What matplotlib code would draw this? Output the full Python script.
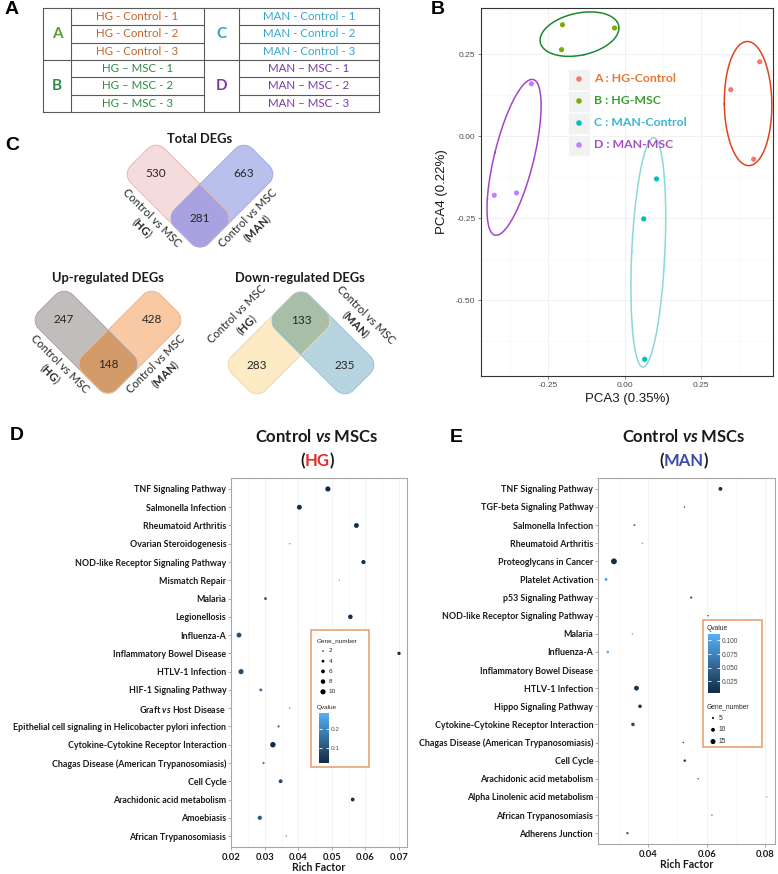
import numpy as np
import matplotlib
matplotlib.use('Agg')
import matplotlib.pyplot as plt
from matplotlib.colors import LinearSegmentedColormap, Normalize
from matplotlib.cm import ScalarMappable
from matplotlib.patches import Polygon, Rectangle
from matplotlib.ticker import FormatStrFormatter

plt.rcParams['font.family'] = ['Lato', 'DejaVu Sans']
plt.rcParams['mathtext.fontset'] = 'custom'
plt.rcParams['mathtext.rm'] = 'Lato'
plt.rcParams['mathtext.bf'] = 'Lato:bold'
plt.rcParams['mathtext.it'] = 'Lato:italic:bold'
plt.rcParams['axes.unicode_minus'] = False

W, H = 778, 874

# A: sample table
groups_left = ['A', 'B']
groups_right = ['C', 'D']
samples_left = ['HG - Control - 1', 'HG - Control - 2', 'HG - Control - 3',
                'HG – MSC - 1', 'HG – MSC - 2', 'HG – MSC - 3']
samples_right = ['MAN - Control - 1', 'MAN - Control - 2', 'MAN - Control - 3',
                 'MAN – MSC - 1', 'MAN – MSC - 2', 'MAN – MSC - 3']

# B: PCA
pca_labels = ['A : HG-Control', 'B : HG-MSC', 'C : MAN-Control', 'D : MAN-MSC']
pca3 = [[0.444, 0.349, 0.424], [-0.204, -0.033, -0.207],
        [0.105, 0.063, 0.066], [-0.306, -0.428, -0.355]]
pca4 = [[0.227, 0.142, -0.070], [0.340, 0.330, 0.264],
        [-0.130, -0.252, -0.680], [0.160, -0.180, -0.173]]

# C: Venn counts
venn_titles = ['Total DEGs', 'Up-regulated DEGs', 'Down-regulated DEGs']
venn_only_hg = [530, 247, 283]
venn_shared = [281, 148, 133]
venn_only_man = [663, 428, 235]
venn_sets = ['HG', 'MAN']

# D: KEGG, HG
hg_terms = ['TNF Signaling Pathway', 'Salmonella Infection', 'Rheumatoid Arthritis',
            'Ovarian Steroidogenesis', 'NOD-like Receptor Signaling Pathway', 'Mismatch Repair',
            'Malaria', 'Legionellosis', 'Influenza-A', 'Inflammatory Bowel Disease',
            'HTLV-1 Infection', 'HIF-1 Signaling Pathway', 'Graft $\\mathit{vs}$ Host Disease',
            'Epithelial cell signaling in Helicobacter pylori infection',
            'Cytokine-Cytokine Receptor Interaction', 'Chagas Disease (American Trypanosomiasis)',
            'Cell Cycle', 'Arachidonic acid metabolism', 'Amoebiasis', 'African Trypanosomiasis']
hg_rich = [0.0488, 0.0403, 0.0573, 0.0374, 0.0594, 0.0522, 0.0302, 0.0555, 0.0223, 0.0700,
           0.0229, 0.0288, 0.0374, 0.0341, 0.0324, 0.0296, 0.0347, 0.0562, 0.0285, 0.0364]
hg_genes = [10, 9, 9, 2, 7, 2, 4, 8, 9, 5, 10, 4, 2, 3, 11, 3, 6, 6, 7, 2]
hg_q = [0.025, 0.03, 0.03, 0.25, 0.035, 0.28, 0.12, 0.035, 0.09, 0.03,
        0.085, 0.14, 0.22, 0.17, 0.022, 0.2, 0.07, 0.04, 0.11, 0.22]

# E: KEGG, MAN
man_terms = ['TNF Signaling Pathway', 'TGF-beta Signaling Pathway', 'Salmonella Infection',
             'Rheumatoid Arthritis', 'Proteoglycans in Cancer', 'Platelet Activation',
             'p53 Signaling Pathway', 'NOD-like Receptor Signaling Pathway', 'Malaria',
             'Influenza-A', 'Inflammatory Bowel Disease', 'HTLV-1 Infection',
             'Hippo Signaling Pathway', 'Cytokine-Cytokine Receptor Interaction',
             'Chagas Disease (American Trypanosomiasis)', 'Cell Cycle',
             'Arachidonic acid metabolism', 'Alpha Linolenic acid metabolism',
             'African Trypanosomiasis', 'Adherens Junction']
man_rich = [0.0647, 0.0524, 0.0353, 0.0380, 0.0283, 0.0256, 0.0547, 0.0605, 0.0346, 0.0262,
            np.nan, 0.0360, 0.0372, 0.0348, 0.0520, 0.0525, 0.0571, 0.0806, 0.0618, 0.0329]
man_genes = [10, 4, 5, 4, 19, 7, 5, 4, 4, 6, np.nan, 14, 9, 9, 4, 6, 4, 4, 4, 6]
man_q = [0.008, 0.02, 0.07, 0.095, 0.003, 0.1, 0.02, 0.02, 0.1, 0.105,
         np.nan, 0.01, 0.012, 0.03, 0.02, 0.015, 0.025, 0.112, 0.05, 0.06]


def px(l, t, r, b):
    return [l / W, 1 - b / H, (r - l) / W, (b - t) / H]


fig = plt.figure(figsize=(W / 100, H / 100), dpi=100)
cmap = LinearSegmentedColormap.from_list('qv', ['#132B43', '#56B1F7'])

# ---------------- B: PCA ----------------
axB = fig.add_axes(px(481, 8, 773, 376))
pca_colors = ['#F8766D', '#7CAE00', '#00BFC4', '#C77CFF']
ell_colors = ['#e0441c', '#1a8a32', '#8ad9d5', '#a644c8']
allx = np.concatenate(pca3)
ally = np.concatenate(pca4)
axB.set_xlim(allx.min() - 0.05 * np.ptp(allx), allx.max() + 0.05 * np.ptp(allx))
axB.set_ylim(ally.min() - 0.05 * np.ptp(ally), ally.max() + 0.05 * np.ptp(ally))
for xs, ys, c, ec in zip(pca3, pca4, pca_colors, ell_colors):
    axB.scatter(xs, ys, s=14, color=c, edgecolors='none', zorder=3)
    # ellipse from the group spread, in screen space
    d = axB.transData.transform(np.column_stack([xs, ys]))
    cov = np.cov(d.T) * 1.44 + 230 * np.eye(2)
    vals, vecs = np.linalg.eigh(cov)
    t = np.linspace(0, 2 * np.pi, 200)
    ring = d.mean(0) + (vecs @ (np.sqrt(vals)[:, None] * np.vstack([np.cos(t), np.sin(t)]))).T
    ring = axB.transData.inverted().transform(ring)
    axB.plot(ring[:, 0], ring[:, 1], color=ec, lw=1.1, scalex=False, scaley=False, zorder=2)
axB.set_xticks([-0.25, 0, 0.25])
axB.set_yticks([-0.5, -0.25, 0, 0.25])
axB.set_xticks([-0.375, -0.125, 0.125, 0.375], minor=True)
axB.set_yticks([-0.625, -0.375, -0.125, 0.125, 0.375], minor=True)
axB.xaxis.set_major_formatter(FormatStrFormatter('%.2f'))
axB.yaxis.set_major_formatter(FormatStrFormatter('%.2f'))
axB.grid(which='major', color='#efefef', lw=0.6)
axB.grid(which='minor', color='#f6f6f6', lw=0.4)
axB.set_axisbelow(True)
axB.tick_params(which='major', length=2.5, width=0.5, color='#555555', labelsize=6,
                labelcolor='#4d4d4d', pad=1.5, labelfontfamily='Liberation Sans')
axB.tick_params(which='minor', length=0)
for sp in axB.spines.values():
    sp.set_color('#333333')
    sp.set_linewidth(0.8)
axB.set_xlabel('PCA3 (0.35%)', fontsize=9.5, family='Liberation Sans', color='#1a1a1a', labelpad=3)
axB.set_ylabel('PCA4 (0.22%)', fontsize=9.5, family='Liberation Sans', color='#1a1a1a', labelpad=6)


# ---------------- D / E: KEGG dot plots ----------------
def kegg_panel(rect, terms, rich, genes, q, size_a, size_g0, major, minor):
    ax = fig.add_axes(px(*rect))
    rich = np.asarray(rich, float)
    genes = np.asarray(genes, float)
    q = np.asarray(q, float)
    y = np.arange(len(terms))
    norm = Normalize(np.nanmin(q), np.nanmax(q))
    ax.scatter(rich, y, s=size_a * (genes - size_g0), c=q, cmap=cmap, norm=norm,
               edgecolors='none', zorder=3)
    lo, hi = np.nanmin(rich), np.nanmax(rich)
    ax.set_xlim(lo - 0.05 * (hi - lo), hi + 0.05 * (hi - lo))
    ax.set_ylim(len(terms) - 0.4, -0.6)
    ax.set_yticks(y, terms)
    ax.set_xticks(major)
    ax.set_xticks(minor, minor=True)
    ax.xaxis.set_major_formatter(FormatStrFormatter('%.2f'))
    ax.grid(axis='x', which='major', color='#f0f0f0', lw=0.6)
    ax.grid(axis='x', which='minor', color='#f5f5f5', lw=0.5)
    ax.set_axisbelow(True)
    ax.tick_params(which='major', length=2, width=0.5, color='#8c8c8c', pad=1.5)
    ax.tick_params(which='minor', length=0)
    ax.tick_params(axis='y', labelsize=6.4, labelcolor='#1a1a1a')
    ax.tick_params(axis='x', labelsize=6.8, labelcolor='#1a1a1a', pad=2)
    for lab in ax.get_yticklabels() + ax.get_xticklabels():
        lab.set_fontweight('bold')
    for sp in ax.spines.values():
        sp.set_color('#a6a6a6')
        sp.set_linewidth(0.8)
    ax.set_xlabel('Rich Factor', fontsize=7.6, fontweight='bold', color='#1a1a1a', labelpad=0.5)
    return norm


normD = kegg_panel((231, 478, 407, 847), hg_terms, hg_rich, hg_genes, hg_q, 1.6, 1.3,
                   np.arange(0.02, 0.0701, 0.01), np.arange(0.025, 0.0701, 0.01))
normE = kegg_panel((598, 478, 775, 844), man_terms, man_rich, man_genes, man_q, 1.1, 3.0,
                   [0.04, 0.06, 0.08], [0.03, 0.05, 0.07])

# ---------------- overlay in pixel coordinates ----------------
ov = fig.add_axes([0, 0, 1, 1])
ov.set_xlim(0, W)
ov.set_ylim(H, 0)
ov.axis('off')
ov.set_facecolor('none')

for lab, (x, y) in zip('ABCDE', [(12, 10), (438, 9), (12, 145), (17, 436), (456, 437)]):
    ov.text(x, y, lab, fontsize=14, fontweight='bold', family='Liberation Sans',
            ha='center', va='center', color='black')

# A: table
tx = [43, 71, 204, 239, 379]
ty = 8 + 17.3 * np.arange(7)
lc = '#595959'
for i in [0, 3, 6]:
    ov.plot([tx[0], tx[-1]], [ty[i], ty[i]], color=lc, lw=0.8)
for i in [1, 2, 4, 5]:
    ov.plot([tx[1], tx[2]], [ty[i], ty[i]], color=lc, lw=0.8)
    ov.plot([tx[3], tx[4]], [ty[i], ty[i]], color=lc, lw=0.8)
for x in tx:
    ov.plot([x, x], [ty[0], ty[6]], color=lc, lw=0.8)
grp_cols_left = ['#5b9b32', '#2e8b44']
grp_cols_right = ['#2fa6c6', '#7b3aa6']
smp_cols_left = ['#c5632c', '#2e8b44']
smp_cols_right = ['#3aa5c9', '#7b3aa6']
for g in range(2):
    ym = (ty[3 * g] + ty[3 * g + 3]) / 2
    ov.text((tx[0] + tx[1]) / 2, ym, groups_left[g], color=grp_cols_left[g], fontsize=11,
            fontweight='bold', ha='center', va='center')
    ov.text((tx[2] + tx[3]) / 2, ym, groups_right[g], color=grp_cols_right[g], fontsize=11,
            fontweight='bold', ha='center', va='center')
for i in range(6):
    ym = (ty[i] + ty[i + 1]) / 2
    ov.text((tx[1] + tx[2]) / 2, ym, samples_left[i], color=smp_cols_left[i // 3], fontsize=8.3,
            ha='center', va='center')
    ov.text((tx[3] + tx[4]) / 2, ym, samples_right[i], color=smp_cols_right[i // 3], fontsize=8.3,
            ha='center', va='center')

# B legend
leg_text_cols = ['#e8772e', '#3c9c34', '#3cb4d4', '#a84ec4']
for i, (lab, c, tc) in enumerate(zip(pca_labels, pca_colors, leg_text_cols)):
    yr = 79 + 22 * i
    ov.add_patch(Rectangle((568, yr - 10.5), 22, 21, facecolor='#f2f2f2', edgecolor='white', lw=0.5))
    ov.scatter([579], [yr], s=16, color=c, edgecolors='none', zorder=3)
    ov.text(594, yr, lab, color=tc, fontsize=8.8, fontweight='bold', ha='left', va='center')

# C: Venn diagrams
L, Wd, R = 110, 48, 12
s2 = np.sqrt(2)


def rrect(c, ang):
    hw, hl = Wd / 2 - R, L / 2 - R
    pts = []
    for sx, sy, a0 in [(hw, hl, 0), (-hw, hl, 90), (-hw, -hl, 180), (hw, -hl, 270)]:
        t = np.radians(np.linspace(a0, a0 + 90, 10))
        pts.append(np.column_stack([sx + R * np.cos(t), sy + R * np.sin(t)]))
    pts = np.vstack(pts)
    a = np.radians(ang)
    u = np.array([np.cos(a), np.sin(a)])
    v = np.array([-np.sin(a), np.cos(a)])
    return np.asarray(c) + pts[:, [0]] * v + pts[:, [1]] * u


def venn(k, cx, ay, sgn, faces, edges, over, title_xy, off_u):
    dx = (L - Wd) / (2 * s2)
    dy = (L + Wd) / (2 * s2)
    counts = [venn_only_hg[k], venn_only_man[k]]
    polys = []
    for side in (-1, 1):
        c = np.array([cx + side * dx, ay + sgn * dy])
        u_out = np.array([side, sgn]) / s2
        ang = np.degrees(np.arctan2(u_out[1], u_out[0]))
        j = 0 if side < 0 else 1
        p = Polygon(rrect(c, ang), closed=True, facecolor=faces[j], edgecolor='none')
        ov.add_patch(p)
        polys.append((c, u_out, ang))
    pr = ov.patches[-1]
    cl, _, angl = polys[0]
    ovp = Polygon(rrect(cl, angl), closed=True, facecolor=over, edgecolor='none')
    ov.add_patch(ovp)
    ovp.set_clip_path(pr)
    for j, (c, u_out, ang) in enumerate(polys):
        ov.add_patch(Polygon(rrect(c, ang), closed=True, facecolor='none',
                             edgecolor=edges[j], lw=0.7))
        side = -1 if j == 0 else 1
        pos = c + (L / 2 - 0.38 * (L - Wd)) * u_out
        ov.text(pos[0], pos[1], str(counts[j]), fontsize=8.5, color='#262626',
                ha='center', va='center')
        n = np.array([side, -sgn]) / s2
        lp = c + 42 * n + off_u * u_out
        rot = 45 * sgn if side < 0 else -45 * sgn
        ov.text(lp[0], lp[1], 'Control vs MSC\n($\\mathbf{%s}$)' % venn_sets[j], fontsize=8,
                color='#262626', ha='center', va='center', multialignment='center',
                rotation=rot, rotation_mode='anchor', linespacing=1.1)
    ov.text(cx, ay + sgn * Wd / s2, str(venn_shared[k]), fontsize=8.5, color='#262626',
            ha='center', va='center')
    ov.text(title_xy[0], title_xy[1], venn_titles[k], fontsize=9.3, fontweight='bold',
            color='#1a1a1a', ha='center', va='center')


venn(0, 200, 252, -1, ['#f5dcdc', '#bac0ec'], ['#e6b8b8', '#a2a8e2'], '#a9a2e0', (200, 139), 3)
venn(1, 108, 398, -1, ['#c2bdbd', '#f8c9a2'], ['#aaa4a4', '#eeb384'], '#d49b6a', (108, 278), 3)
venn(2, 301, 287, 1, ['#fdebc6', '#b6d5e0'], ['#f0d8a8', '#9cc0cf'], '#a8bea6', (300, 278), 10)

# D / E titles
renderer = fig.canvas.get_renderer()


def panel_title(x, word, color):
    ov.text(x, 437, 'Control $\\mathit{vs}$ MSCs', fontsize=12, fontweight='bold',
            color='#1a1a1a', ha='center', va='center')
    t = ov.text(x, 461, word, fontsize=12, fontweight='bold', color=color, ha='center', va='center')
    bb = t.get_window_extent(renderer)
    ov.text(bb.x0, 461, '(', fontsize=12, fontweight='bold', color='#1a1a1a', ha='right', va='center')
    ov.text(bb.x1, 461, ')', fontsize=12, fontweight='bold', color='#1a1a1a', ha='left', va='center')


panel_title(317, 'HG', '#e0302a')
panel_title(684, 'MAN', '#3b4aa6')

# D / E legends
lgf = dict(family='Liberation Sans', color='#262626')
ov.add_patch(Rectangle((311, 630), 58, 137, facecolor='white', edgecolor='#eaa374', lw=1.2))
ov.text(317, 641, 'Gene_number', fontsize=4.6, ha='left', va='center', **lgf)
for i, g in enumerate([2, 4, 6, 8, 10]):
    yy = 651 + 10.2 * i
    ov.scatter([323], [yy], s=1.6 * (g - 1.3), color='black', edgecolors='none', zorder=3)
    ov.text(328.5, yy, str(g), fontsize=4.6, ha='left', va='center', **lgf)
ov.text(317, 707, 'Qvalue', fontsize=4.6, ha='left', va='center', **lgf)

ov.add_patch(Rectangle((703, 620), 59, 127, facecolor='white', edgecolor='#eaa374', lw=1.2))
ov.text(707, 628, 'Qvalue', fontsize=4.8, ha='left', va='center', **lgf)
ov.text(707, 707, 'Gene_number', fontsize=4.8, ha='left', va='center', **lgf)
for i, g in enumerate([5, 10, 15]):
    yy = 718 + 11.8 * i
    ov.scatter([713], [yy], s=1.1 * (g - 3), color='black', edgecolors='none', zorder=3)
    ov.text(719, yy, str(g), fontsize=4.8, ha='left', va='center', **lgf)


def qbar(rect, norm, ticks, fmt, size):
    cax = fig.add_axes(px(*rect))
    cb = fig.colorbar(ScalarMappable(norm=norm, cmap=cmap), cax=cax)
    cb.outline.set_visible(False)
    cb.set_ticks(ticks)
    cb.ax.yaxis.set_major_formatter(FormatStrFormatter(fmt))
    cb.ax.tick_params(direction='in', length=2, width=0.6, color='white', left=True, right=True,
                      labelsize=size, labelcolor='#4d4d4d', pad=1.5, labelfontfamily='Liberation Sans')


qbar((319, 713, 329, 763), normD, [0.1, 0.2], '%.1f', 4.6)
qbar((708, 634, 720, 693), normE, [0.025, 0.05, 0.075, 0.1], '%.3f', 4.8)

fig.savefig('out.png', dpi=100)
